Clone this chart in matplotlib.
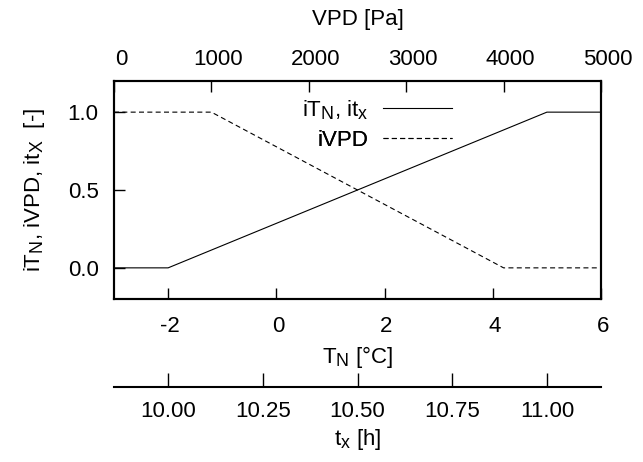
import matplotlib
matplotlib.use("Agg")
import matplotlib.pyplot as plt
import matplotlib.transforms as mtransforms
from matplotlib.lines import Line2D
try:
    import matplotlib._mathtext as _mt
    _mt.SHRINK_FACTOR = 0.8
except Exception:
    pass

# Data
tn_pts = [-3, -2, 5, 6]          # T_N [°C]
itn_vals = [0, 0, 1, 1]          # iT_N, it_x
vpd_pts = [0, 1000, 4000, 5000]  # VPD [Pa]
ivpd_vals = [1, 1, 0, 0]         # iVPD

tn_ticks = [-2, 0, 2, 4, 6]
vpd_ticks = [0, 1000, 2000, 3000, 4000, 5000]
tx_ticks = [10.00, 10.25, 10.50, 10.75, 11.00]
y_ticks = [0.0, 0.5, 1.0]

plt.rcParams['font.family'] = ['Liberation Sans', 'DejaVu Sans']
plt.rcParams['mathtext.fontset'] = 'custom'
plt.rcParams['mathtext.rm'] = 'Liberation Sans'
plt.rcParams['mathtext.it'] = 'Liberation Sans'
FS = 16

W, H = 643, 462
fig = plt.figure(figsize=(W / 100, H / 100), dpi=100)
L, R, T, B = 114, 601, 81, 299
ax = fig.add_axes([L / W, 1 - B / H, (R - L) / W, (B - T) / H])

ax.plot(tn_pts, itn_vals, color='black', lw=0.8)
ax.set_xlim(-3, 6)
ax.set_ylim(-0.2, 1.2)
ax.set_xticks(tn_ticks)
ax.set_xticklabels([str(t) for t in tn_ticks])
ax.set_yticks(y_ticks)
ax.set_yticklabels([f"{v:.1f}" for v in y_ticks])
ax.tick_params(direction='in', length=8, width=1, labelsize=FS, top=False, right=False)
ax.tick_params(axis='x', pad=12)
ax.tick_params(axis='y', pad=11)
for s in ax.spines.values():
    s.set_linewidth(1.5)
ax.set_xlabel(r"T$_\mathrm{N}$ [°C]", fontsize=FS, labelpad=5)
ax.set_ylabel(r"iT$_\mathrm{N}$, iVPD, it$_\mathrm{X}$  [-]", fontsize=FS, labelpad=15)

# top VPD axis
axt = ax.twiny()
axt.plot(vpd_pts, ivpd_vals, color='black', lw=0.8, dashes=(4.5, 3))
axt.set_xlim(0, 5000)
axt.set_xticks(vpd_ticks)
axt.set_xticklabels([str(v) for v in vpd_ticks])
axt.tick_params(direction='in', length=8, width=1, labelsize=FS, pad=8)
axt.set_xlabel("VPD [Pa]", fontsize=FS, labelpad=17)
for s in axt.spines.values():
    s.set_linewidth(1.5)
off = mtransforms.ScaledTranslation(7 / 100, 0, fig.dpi_scale_trans)
for lab in axt.get_xticklabels():
    lab.set_transform(lab.get_transform() + off)
off2 = mtransforms.ScaledTranslation(2 / 100, 0, fig.dpi_scale_trans)
for lab in ax.get_xticklabels():
    lab.set_transform(lab.get_transform() + off2)

# third axis t_x
def tn2tx(t):
    return 10 + (t + 2) / 7.0
def tx2tn(x):
    return (x - 10) * 7.0 - 2
loc = -(387 - B) / (B - T)
ax3 = ax.secondary_xaxis(loc, functions=(tn2tx, tx2tn))
ax3.set_xticks(tx_ticks)
ax3.set_xticklabels([f"{v:.2f}" for v in tx_ticks])
ax3.tick_params(direction='in', length=10, width=1, labelsize=FS, pad=10)
ax3.spines['bottom'].set_linewidth(1.5)
ax3.set_xlabel(r"t$_\mathrm{x}$ [h]", fontsize=FS, labelpad=4)

# legend (gnuplot style: right-aligned text, line sample on the right)
entries = [
    (Line2D([], [], color='black', lw=0.8), r"iT$_\mathrm{N}$, it$_\mathrm{x}$", 110),
    (Line2D([], [], color='black', lw=0.8, dashes=(4.5, 3)), "iVPD", 140),
]
for h, lab, yc in entries:
    lg = ax.legend([h], [lab], frameon=False, markerfirst=False, fontsize=FS,
                   handlelength=3.1, handletextpad=0.65,
                   loc='center right', bbox_to_anchor=(452 / W, 1 - yc / H),
                   bbox_transform=fig.transFigure, borderpad=0, borderaxespad=0)
    ax.add_artist(lg)

fig.savefig("out.png", dpi=100)
